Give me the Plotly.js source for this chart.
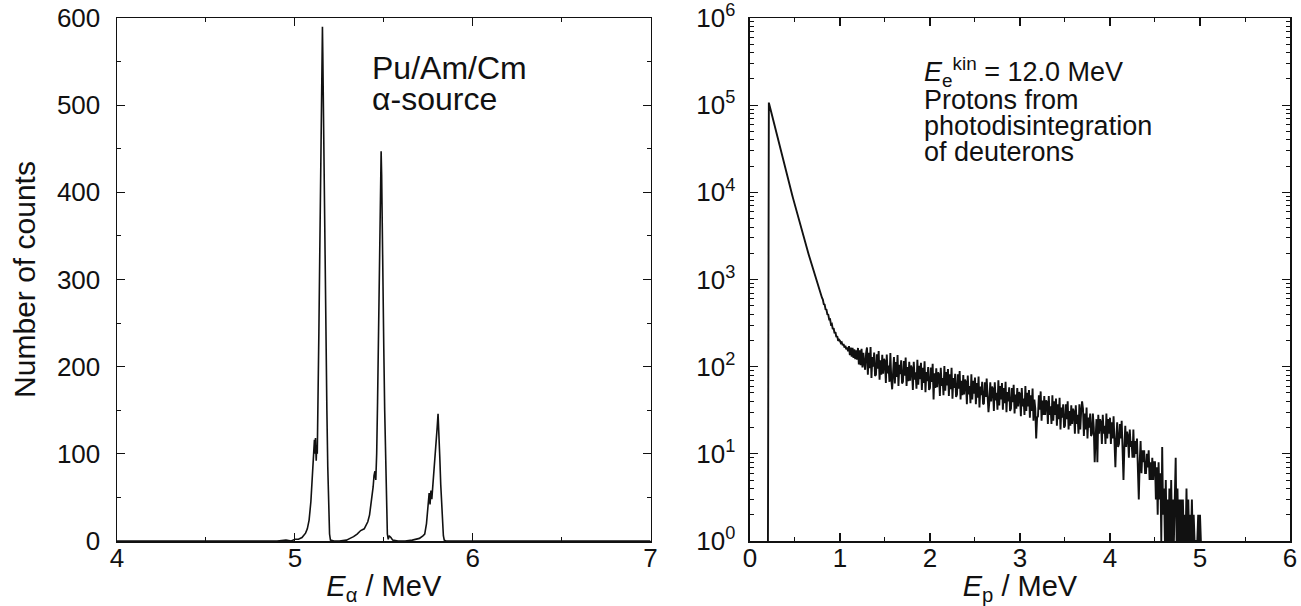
<!DOCTYPE html>
<html>
<head>
<meta charset="utf-8">
<script src="https://cdn.plot.ly/plotly-3.0.1.min.js"></script>
<style>html,body{margin:0;padding:0;background:#fff;}#chart{width:1301px;height:606px;}</style>
</head>
<body>
<div id="chart"></div>
<script>
// ---- Left panel: alpha spectrum (Pu/Am/Cm source) ----
const alphaEnergy = [4.00,4.50,4.90,4.95,4.98,5.00,5.02,5.04,5.05,5.06,5.07,5.08,5.09,5.095,5.10,5.105,5.11,5.113,5.116,5.12,5.123,5.126,5.13,5.135,5.14,5.145,5.15,5.153,5.155,5.157,5.16,5.165,5.17,5.175,5.18,5.185,5.19,5.195,5.20,5.22,5.25,5.29,5.31,5.33,5.35,5.37,5.39,5.40,5.41,5.42,5.43,5.44,5.445,5.45,5.455,5.46,5.465,5.47,5.475,5.48,5.485,5.488,5.49,5.495,5.50,5.505,5.51,5.515,5.52,5.525,5.53,5.54,5.55,5.58,5.62,5.66,5.68,5.70,5.72,5.73,5.74,5.75,5.755,5.76,5.765,5.77,5.775,5.78,5.785,5.79,5.795,5.80,5.805,5.81,5.815,5.82,5.825,5.83,5.835,5.84,5.85,6.00,7.00];
const alphaCounts = [0,0,0,1,0,2,2,4,6,9,14,24,45,62,85,105,116,100,118,92,110,100,150,240,330,420,510,570,590,560,500,410,320,230,150,85,35,8,1,0,0,1,3,5,8,12,14,18,22,30,45,62,75,80,70,100,160,230,300,380,447,420,370,300,220,150,85,35,8,2,6,4,1,0,0,1,2,3,6,8,20,45,55,42,58,48,60,75,90,105,118,130,146,125,95,65,40,18,6,1,0,0,0];

// ---- Right panel: proton spectrum, bins of 0.01 MeV starting at 0.20 MeV ----
const protonE0 = 0.20;
const protonBin = 0.01;
const protonCounts = [1,
107000,97300,88300,80200,72800,66100,60000,54500,49400,44900,
40800,37200,33800,30800,28000,25500,23200,21100,19300,17600,
16000,14600,13300,12200,11100,10100,9270,8470,7740,7080,
6490,5940,5450,4990,4570,4200,3850,3540,3250,2990,
2750,2530,2330,2140,1970,1820,1680,1550,1430,1320,
1220,1130,1040,964,893,828,769,714,664,618,
590,522,515,455,450,398,395,348,350,305,
310,270,276,242,248,218,224,198,204,
198,186,190,176,182,166,174,158,166,150,
172,136,166,130,164,126,158,122,154,120,
164,106,154,104,160,98,144,110,92,142,
166,81,144,96,168,74,129,100,145,78,
81,139,95,151,71,118,81,137,83,123,
115,65,138,84,103,67,143,73,55,85,
129,64,113,76,136,60,105,82,118,64,
67,116,79,127,60,99,68,114,69,103,
95,54,114,71,86,56,120,62,102,72,
111,54,97,65,115,51,87,68,99,54,
57,98,67,108,42,84,57,96,58,86,
81,46,97,60,74,47,102,53,87,61,
94,46,82,55,97,43,74,57,83,45,
48,82,56,89,42,69,47,80,48,71,
66,37,79,48,60,38,82,42,69,49,
75,37,65,44,77,34,59,47,67,37,
38,66,45,73,35,30,40,66,40,59,
55,31,66,41,50,32,70,36,60,42,
65,32,57,38,67,30,51,40,58,31,
33,57,39,62,29,48,33,57,35,51,
48,27,57,35,43,28,60,31,50,35,
54,26,47,31,56,24,42,33,15,26,
27,47,32,52,24,41,28,46,28,41,
39,22,46,28,35,22,47,24,40,28,
43,21,37,25,44,19,34,26,37,20,
21,37,25,40,19,31,21,36,22,33,
30,17,36,22,28,17,37,19,31,40,
33,16,29,19,34,15,26,20,29,16,
17,29,20,8,15,25,8,28,17,25,
23,13,28,17,21,13,29,15,25,17,
26,13,23,15,27,12,7,15,23,12,
13,22,15,24,11,5,12,21,12,18,
16,9,19,12,14,9,19,9,14,10,
15,7,3,8,14,6,11,8,11,6,
6,10,7,11,5,8,5,9,5,8,
8,3,7,2,8,3,6,1,12,2,
4,1,5,1,3,1,4,1,5,1,
3,1,3,9,1,4,1,3,1,3,
1,3,1,2,1,4,1,3,1,2,
1,3,1,2,1,1,1,1,2,1,
2,1];

const logTickVals = [1,10,100,1000,10000,100000,1000000];
const logTickText = ['10<sup>0</sup>','10<sup>1</sup>','10<sup>2</sup>','10<sup>3</sup>','10<sup>4</sup>','10<sup>5</sup>','10<sup>6</sup>'];

const FONT = 'Liberation Sans, Arial, Helvetica, sans-serif';
const INK = '#111';

const traces = [
  {x: alphaEnergy, y: alphaCounts, type: 'scatter', mode: 'lines', xaxis: 'x', yaxis: 'y',
   line: {color: INK, width: 1.6}, hoverinfo: 'x+y'},
  {x0: protonE0, dx: protonBin, y: protonCounts, type: 'scatter', mode: 'lines', xaxis: 'x2', yaxis: 'y2',
   line: {color: INK, width: 1.9}, hoverinfo: 'x+y'}
];

function baseAxis(extra) {
  return Object.assign({
    showline: true, linecolor: INK, linewidth: 1.5, mirror: 'allticks',
    ticks: 'inside', ticklen: 8, tickwidth: 1.2, tickcolor: INK,
    showgrid: false, zeroline: false, fixedrange: true,
    tickfont: {family: FONT, size: 26, color: INK}
  }, extra);
}

const TXT_L = {family: FONT, size: 32, color: INK};
const TXT_R = {family: FONT, size: 27, color: INK};

const layout = {
  width: 1301, height: 606,
  margin: {l: 117, r: 11, t: 18, b: 65},
  paper_bgcolor: '#fff', plot_bgcolor: '#fff',
  showlegend: false,
  font: {family: FONT, color: INK},
  xaxis: baseAxis({domain: [0, 0.4549], range: [4, 7], anchor: 'y', tick0: 4, dtick: 1,
    minor: {ticks: 'inside', ticklen: 4, tickwidth: 1, tickcolor: INK, tick0: 4, dtick: 0.5},
    ticklabelstandoff: -7,
    title: {text: '<i>E</i><sub>α</sub> / MeV', font: {family: FONT, size: 29, color: INK}, standoff: 4}}),
  yaxis: baseAxis({domain: [0, 1], range: [0, 600], anchor: 'x', tick0: 0, dtick: 100,
    minor: {ticks: 'inside', ticklen: 4, tickwidth: 1, tickcolor: INK, tick0: 0, dtick: 50},
    ticklabelstandoff: 10,
    title: {text: 'Number of counts', font: {family: FONT, size: 30, color: INK}, standoff: 12}}),
  xaxis2: baseAxis({domain: [0.5396, 1], range: [0, 6], anchor: 'y2', tick0: 0, dtick: 1,
    minor: {ticks: 'inside', ticklen: 4, tickwidth: 1, tickcolor: INK, tick0: 0, dtick: 0.5},
    ticklabelstandoff: -7,
    title: {text: '<i>E</i><sub>p</sub> / MeV', font: {family: FONT, size: 29, color: INK}, standoff: 4}}),
  yaxis2: baseAxis({domain: [0, 1], type: 'log', range: [0, 6], anchor: 'x2',
    tickmode: 'array', tickvals: logTickVals, ticktext: logTickText, ticklabelstandoff: 8,
    minor: {ticks: 'inside', ticklen: 4, tickwidth: 1, tickcolor: INK, dtick: 'D1'}}),
  annotations: [
    {xref: 'x', yref: 'y', x: 5.42, y: 543, xanchor: 'left', yanchor: 'middle', showarrow: false,
     text: 'Pu/Am/Cm', font: TXT_L},
    {xref: 'x', yref: 'y', x: 5.42, y: 507, xanchor: 'left', yanchor: 'middle', showarrow: false,
     text: 'α-source', font: TXT_L},
    {xref: 'x2', yref: 'y2', x: 1.91, y: 5.38, xanchor: 'left', yanchor: 'middle', showarrow: false,
     text: '<i>E</i><sub>e</sub><sup>kin</sup> = 12.0 MeV', font: TXT_R},
    {xref: 'x2', yref: 'y2', x: 1.91, y: 5.06, xanchor: 'left', yanchor: 'middle', showarrow: false,
     text: 'Protons from', font: TXT_R},
    {xref: 'x2', yref: 'y2', x: 1.91, y: 4.76, xanchor: 'left', yanchor: 'middle', showarrow: false,
     text: 'photodisintegration', font: TXT_R},
    {xref: 'x2', yref: 'y2', x: 1.91, y: 4.46, xanchor: 'left', yanchor: 'middle', showarrow: false,
     text: 'of deuterons', font: TXT_R}
  ]
};

Plotly.newPlot('chart', traces, layout, {staticPlot: true, displayModeBar: false});
</script>
</body>
</html>
